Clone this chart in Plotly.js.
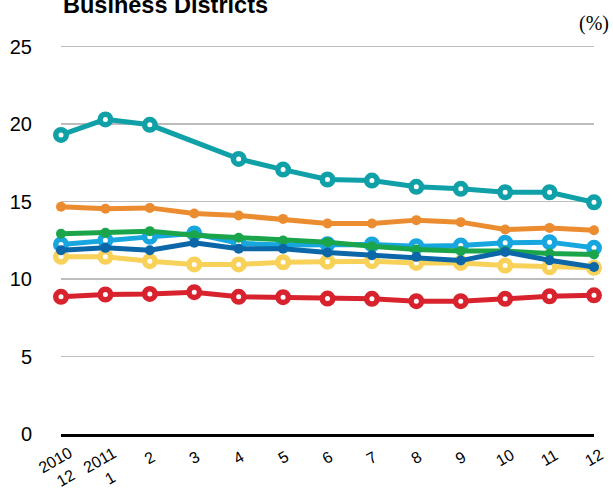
<!DOCTYPE html>
<html><head><meta charset="utf-8">
<script src="https://cdn.plot.ly/plotly-3.0.1.min.js"></script>
<style>html,body{margin:0;padding:0;background:#fff}#chart{width:613px;height:489px}</style>
</head><body><div id="chart"></div>
<script>
const months = [0,1,2,3,4,5,6,7,8,9,10,11,12];
const monthLabels = ["2010<br>12","2011<br>1","2","3","4","5","6","7","8","9","10","11","12"];
const yTicks = [0,5,10,15,20,25];

const teal      = [19.3,20.3,19.95,null,17.75,17.06,16.42,16.35,15.95,15.82,15.6,15.6,14.95];
const orange    = [14.66,14.53,14.59,14.23,14.1,13.88,13.58,13.58,13.8,13.67,13.19,13.3,13.15];
const yellow    = [11.43,11.43,11.15,10.94,10.94,11.08,11.12,11.15,11.04,11.04,10.87,10.76,10.72];
const lightBlue = [12.23,12.5,12.72,12.94,12.3,12.2,12.25,12.23,12.12,12.16,12.34,12.38,12.01];
const green     = [12.92,12.98,13.09,12.83,12.66,12.48,12.38,12.12,11.9,11.8,11.8,11.65,11.58];
const darkBlue  = [11.86,12.01,11.86,12.34,11.95,11.95,11.71,11.54,11.43,11.19,11.75,11.21,10.78];
const red       = [8.85,9.0,9.04,9.15,8.85,8.83,8.74,8.72,8.57,8.57,8.72,8.89,8.95];

function hollow(y, color){
  return {x: months, y: y, type:'scatter', mode:'lines+markers', connectgaps:true, cliponaxis:false,
    line:{color:color, width:5}, marker:{symbol:'circle', size:10.5, color:'#ffffff', line:{color:color, width:5.5}}, hoverinfo:'skip'};
}
function solid(y, color){
  return {x: months, y: y, type:'scatter', mode:'lines+markers', cliponaxis:false,
    line:{color:color, width:5}, marker:{symbol:'circle', size:10, color:color}, hoverinfo:'skip'};
}

const data = [
  hollow(teal,'#10A0A8'),
  solid(orange,'#EC8C30'),
  hollow(yellow,'#F7D158'),
  hollow(lightBlue,'#17A6DE'),
  solid(green,'#1BA54B'),
  solid(darkBlue,'#0B67A8'),
  hollow(red,'#D8232E')
];

const W = 613, H = 489, L = 61, R = 19, T = 45.45, B = 54.5;
const plotH = H - T - B, plotW = W - L - R;
const py = p => (H - B - p) / plotH;   // pixel row -> paper y
const px = p => (p - L) / plotW;       // pixel col -> paper x
const sans = 'Liberation Sans, Arial, Helvetica, sans-serif';

const annotations = monthLabels.map((t, i) => ({
  xref:'x', yref:'paper', x:months[i], y: t.indexOf('<br>') >= 0 ? py(470) : py(458),
  xanchor:'center', yanchor:'middle', textangle:-30, showarrow:false, align:'center',
  text:t, font:{family:sans, size:16, color:'#000'}
}));
annotations.push({xref:'paper', yref:'paper', x:px(61), y:py(5.6), xanchor:'left', yanchor:'middle', showarrow:false,
  text:'<b>Business Districts</b>', font:{family:sans, size:23.5, color:'#000'}});
annotations.push({xref:'paper', yref:'paper', x:px(611), y:py(24), xanchor:'right', yanchor:'middle', showarrow:false,
  text:'(%)', font:{family:'Liberation Serif, Times New Roman, serif', size:20, color:'#000'}});

const layout = {
  width:W, height:H, margin:{l:L, r:R, t:T, b:B},
  paper_bgcolor:'#fff', plot_bgcolor:'#fff', showlegend:false,
  xaxis:{range:[0,12], tickvals:months, showticklabels:false, showgrid:false, zeroline:false,
    showline:true, linecolor:'#000', linewidth:3, ticks:''},
  yaxis:{range:[0,25.1], tickvals:yTicks, showticklabels:true, showgrid:true, gridcolor:'#BDBDBD', gridwidth:1.5,
    zeroline:false, showline:false, ticks:'', ticklabelstandoff:28,
    tickfont:{family:sans, size:20, color:'#000'}},
  annotations: annotations
};
Plotly.newPlot('chart', data, layout, {staticPlot:true, displayModeBar:false});
</script></body></html>
